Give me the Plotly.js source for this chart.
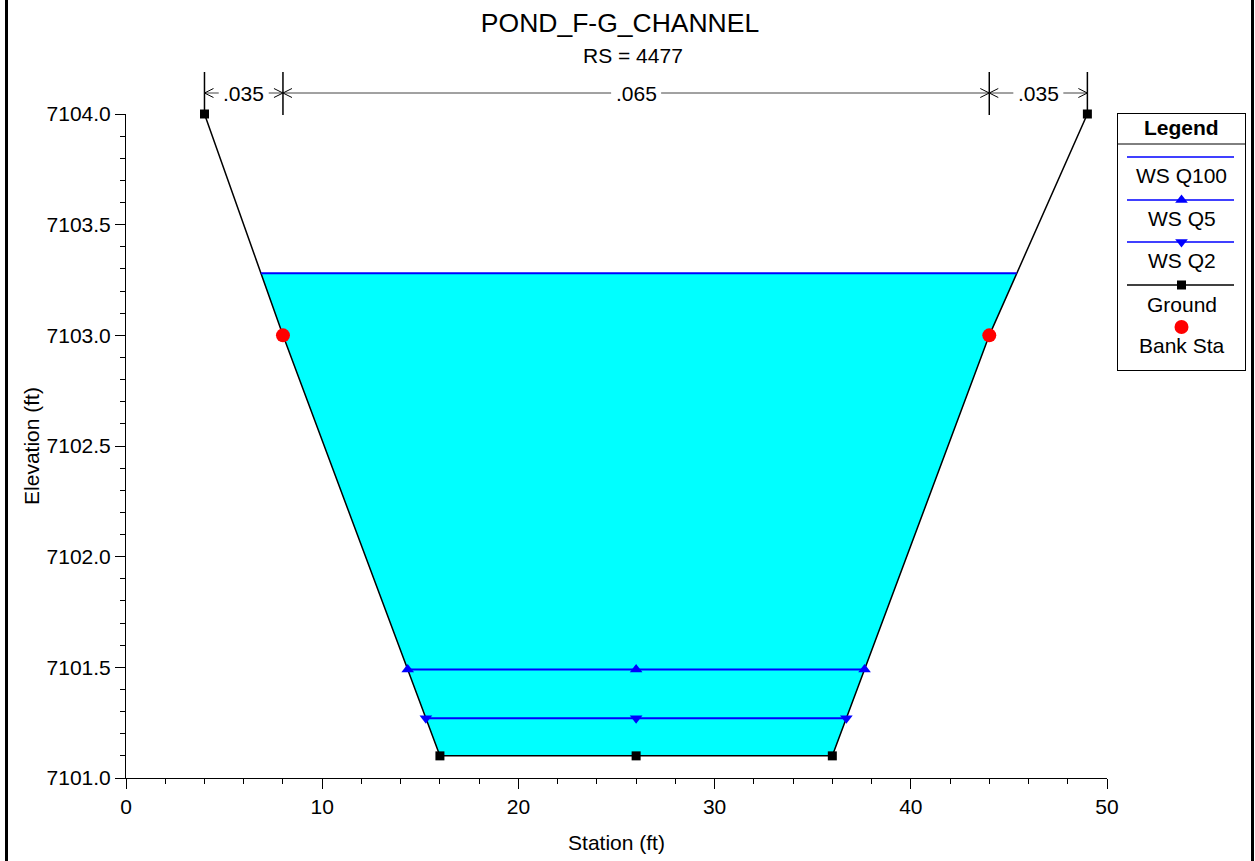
<!DOCTYPE html>
<html><head><meta charset="utf-8">
<script src="https://cdn.plot.ly/plotly-3.0.1.min.js"></script>
<style>html,body{margin:0;padding:0;background:#fff;} #chart{width:1255px;height:861px;}</style>
</head><body><div id="chart"></div>
<script>
// ---- data ----
const groundStation = [4, 8, 16, 26, 36, 44, 49];
const groundElev = [7104, 7103, 7101.1, 7101.1, 7101.1, 7103, 7104];
const bankStation = [8, 44];
const bankElev = [7103, 7103];
const wsNames = ['WS Q100', 'WS Q5', 'WS Q2'];
const wsElev = [7103.28, 7101.49, 7101.27];
const manningN = ['.035', '.065', '.035'];
const manningBreaks = [4, 8, 44, 49];
const xTicks = [0, 10, 20, 30, 40, 50];
const yTicks = [7101.0, 7101.5, 7102.0, 7102.5, 7103.0, 7103.5, 7104.0];
const legendLabels = ['WS Q100', 'WS Q5', 'WS Q2', 'Ground', 'Bank Sta'];

// ---- geometry helpers ----
const W = 1255, H = 861, L = 126, R = 1107, T = 114, B = 778;
const px = p => p / W;
const py = p => 1 - p / H;
const xMin = xTicks[0], xMax = xTicks[xTicks.length - 1];
const pxPerUnit = (R - L) / (xMax - xMin);
const dxPx = p => p / pxPerUnit;

function crossing(elev, fromLeft) {
  const n = groundStation.length;
  if (fromLeft) {
    for (let i = 0; i < n - 1; i++) {
      const a = groundElev[i], b = groundElev[i + 1];
      if (a >= elev && b < elev) {
        const t = (a - elev) / (a - b);
        return groundStation[i] + t * (groundStation[i + 1] - groundStation[i]);
      }
    }
  } else {
    for (let i = n - 1; i > 0; i--) {
      const a = groundElev[i], b = groundElev[i - 1];
      if (a >= elev && b < elev) {
        const t = (a - elev) / (a - b);
        return groundStation[i] + t * (groundStation[i - 1] - groundStation[i]);
      }
    }
  }
  return null;
}

const traces = [];
// water fill (highest WS)
{
  const e = wsElev[0];
  const xl = crossing(e, true), xr = crossing(e, false);
  const fx = [xl], fy = [e];
  groundStation.forEach((s, i) => { if (s > xl && s < xr) { fx.push(s); fy.push(groundElev[i]); } });
  fx.push(xr); fy.push(e);
  traces.push({x: fx, y: fy, mode: 'lines', fill: 'toself', fillcolor: '#00ffff',
    line: {width: 0, color: '#00ffff'}, hoverinfo: 'skip', showlegend: false});
}
// ground
traces.push({x: groundStation, y: groundElev, mode: 'lines+markers', name: 'Ground',
  line: {color: '#000', width: 1.5}, marker: {symbol: 'square', size: 9, color: '#000'},
  cliponaxis: false, showlegend: false});
// WS lines
const wsSymbols = [null, 'triangle-up', 'triangle-down'];
wsElev.forEach((e, k) => {
  const xl = crossing(e, true), xr = crossing(e, false);
  const tr = {name: wsNames[k], line: {color: '#0000ff', width: 2}, cliponaxis: false, showlegend: false};
  if (wsSymbols[k]) {
    tr.x = [xl, (xl + xr) / 2, xr];
    tr.mode = 'lines+markers';
    tr.marker = {symbol: wsSymbols[k], size: 11, color: '#0000ff'};
  } else {
    tr.x = [xl, xr];
    tr.mode = 'lines';
  }
  tr.y = tr.x.map(() => e);
  traces.push(tr);
});
// bank stations
traces.push({x: bankStation, y: bankElev, mode: 'markers', name: 'Bank Sta',
  marker: {symbol: 'circle', size: 14, color: '#ff0000'}, cliponaxis: false, showlegend: false});

// ---- custom legend on its own axes (pixel-like units) ----
const LG = {l: 1118, r: 1245, t: 114, b: 370};
const lgW = LG.r - LG.l, lgH = LG.b - LG.t;
const lgLine = [9, lgW - 11];
const lgMid = lgW / 2;
const lgRows = [43, 86, 128, 171, 213];
const lgTextRows = [61, 104, 146, 190, 231];
const lgStyles = [
  {color: '#0000ff', line: true, symbol: null, size: 0},
  {color: '#0000ff', line: true, symbol: 'triangle-up', size: 11},
  {color: '#0000ff', line: true, symbol: 'triangle-down', size: 11},
  {color: '#000000', line: true, symbol: 'square', size: 9},
  {color: '#ff0000', line: false, symbol: 'circle', size: 14}
];
lgStyles.forEach((s, i) => {
  if (s.line) traces.push({x: lgLine, y: [lgRows[i], lgRows[i]], xaxis: 'x2', yaxis: 'y2', mode: 'lines',
    line: {color: s.color, width: 1.5}, hoverinfo: 'skip', showlegend: false});
  if (s.symbol) traces.push({x: [lgMid], y: [lgRows[i]], xaxis: 'x2', yaxis: 'y2', mode: 'markers',
    marker: {symbol: s.symbol, size: s.size, color: s.color}, hoverinfo: 'skip', showlegend: false, cliponaxis: false});
});

const annotations = [];
const shapes = [];
annotations.push({text: 'RS = 4477', x: px(633), y: py(55), xref: 'paper', yref: 'paper',
  xanchor: 'center', yanchor: 'middle', showarrow: false, font: {size: 21}});
annotations.push({text: '<b>Legend</b>', x: lgMid, y: 13, xref: 'x2', yref: 'y2',
  xanchor: 'center', yanchor: 'middle', showarrow: false, font: {size: 21}});
legendLabels.forEach((t, i) => annotations.push({text: t, x: lgMid, y: lgTextRows[i], xref: 'x2', yref: 'y2',
  xanchor: 'center', yanchor: 'middle', showarrow: false, font: {size: 21}}));
shapes.push({type: 'line', xref: 'x2', yref: 'y2', x0: 0, x1: lgW, y0: 30, y1: 30, line: {color: '#000', width: 1}});

// manning's n dimension lines
const mY = py(93);
manningBreaks.forEach(s => shapes.push({type: 'line', xref: 'x', yref: 'paper', x0: s, x1: s,
  y0: py(72), y1: py(115), line: {color: '#000', width: 1.5}}));
manningN.forEach((n, i) => {
  const a = manningBreaks[i], b = manningBreaks[i + 1];
  const c = (a + b) / 2;
  const half = dxPx(25);
  annotations.push({text: n, x: c, y: mY, xref: 'x', yref: 'paper', xanchor: 'center', yanchor: 'middle',
    showarrow: false, font: {size: 21}});
  const lineStyle = {color: '#444', width: 1};
  shapes.push({type: 'line', xref: 'x', yref: 'paper', x0: a, x1: c - half, y0: mY, y1: mY, line: lineStyle});
  shapes.push({type: 'line', xref: 'x', yref: 'paper', x0: c + half, x1: b, y0: mY, y1: mY, line: lineStyle});
  const aw = dxPx(9), ah = 4.5 / H;
  [[a, 1], [b, -1]].forEach(([tip, dir]) => {
    shapes.push({type: 'line', xref: 'x', yref: 'paper', x0: tip, x1: tip + dir * aw, y0: mY, y1: mY + ah, line: {color: '#000', width: 1}});
    shapes.push({type: 'line', xref: 'x', yref: 'paper', x0: tip, x1: tip + dir * aw, y0: mY, y1: mY - ah, line: {color: '#000', width: 1}});
  });
});
// frame borders (left & right)
shapes.push({type: 'line', xref: 'paper', yref: 'paper', x0: px(6.5), x1: px(6.5), y0: 0, y1: 1, line: {color: '#000', width: 3}});
shapes.push({type: 'line', xref: 'paper', yref: 'paper', x0: px(1252.5), x1: px(1252.5), y0: 0, y1: 1, line: {color: '#000', width: 3}});

const layout = {
  width: W, height: H,
  margin: {l: 0, r: 0, t: 0, b: 0, pad: 0},
  paper_bgcolor: '#fff', plot_bgcolor: 'rgba(0,0,0,0)',
  showlegend: false,
  font: {family: 'Liberation Sans, Arial, sans-serif', size: 21, color: '#000'},
  title: {text: 'POND_F-G_CHANNEL', x: px(620), xref: 'container', xanchor: 'center',
    y: py(23), yref: 'container', yanchor: 'middle', font: {size: 26.5}},
  xaxis: {domain: [px(L), px(R)], range: [xMin, xMax], tickmode: 'linear', tick0: xTicks[0], dtick: xTicks[1] - xTicks[0],
    ticks: 'outside', ticklen: 10, tickwidth: 1, tickcolor: '#000',
    showline: true, linecolor: '#000', linewidth: 1, showgrid: false, zeroline: false,
    minor: {tickmode: 'linear', tick0: 0, dtick: 2, ticks: 'outside', ticklen: 5, tickcolor: '#000', showgrid: false},
    title: {text: 'Station (ft)', standoff: 18, font: {size: 21}}, automargin: false, anchor: 'y', fixedrange: true},
  yaxis: {domain: [py(B), py(T)], range: [yTicks[0], yTicks[yTicks.length - 1]], tickmode: 'linear', tick0: yTicks[0], dtick: yTicks[1] - yTicks[0],
    tickformat: '.1f', ticks: 'outside', ticklen: 10, tickwidth: 1, tickcolor: '#000',
    showline: true, linecolor: '#000', linewidth: 1, showgrid: false, zeroline: false,
    minor: {tickmode: 'linear', tick0: 7101, dtick: 0.1, ticks: 'outside', ticklen: 5, tickcolor: '#000', showgrid: false},
    title: {text: 'Elevation (ft)', standoff: 1, font: {size: 21}}, automargin: false, anchor: 'x', fixedrange: true},
  xaxis2: {domain: [px(LG.l), px(LG.r)], range: [0, lgW], showline: true, mirror: true, linecolor: '#000', linewidth: 1,
    showgrid: false, zeroline: false, showticklabels: false, ticks: '', anchor: 'y2', fixedrange: true},
  yaxis2: {domain: [py(LG.b), py(LG.t)], range: [lgH, 0], showline: true, mirror: true, linecolor: '#000', linewidth: 1,
    showgrid: false, zeroline: false, showticklabels: false, ticks: '', anchor: 'x2', fixedrange: true},
  shapes: shapes,
  annotations: annotations
};

Plotly.newPlot('chart', traces, layout, {displayModeBar: false, staticPlot: true});
</script></body></html>
